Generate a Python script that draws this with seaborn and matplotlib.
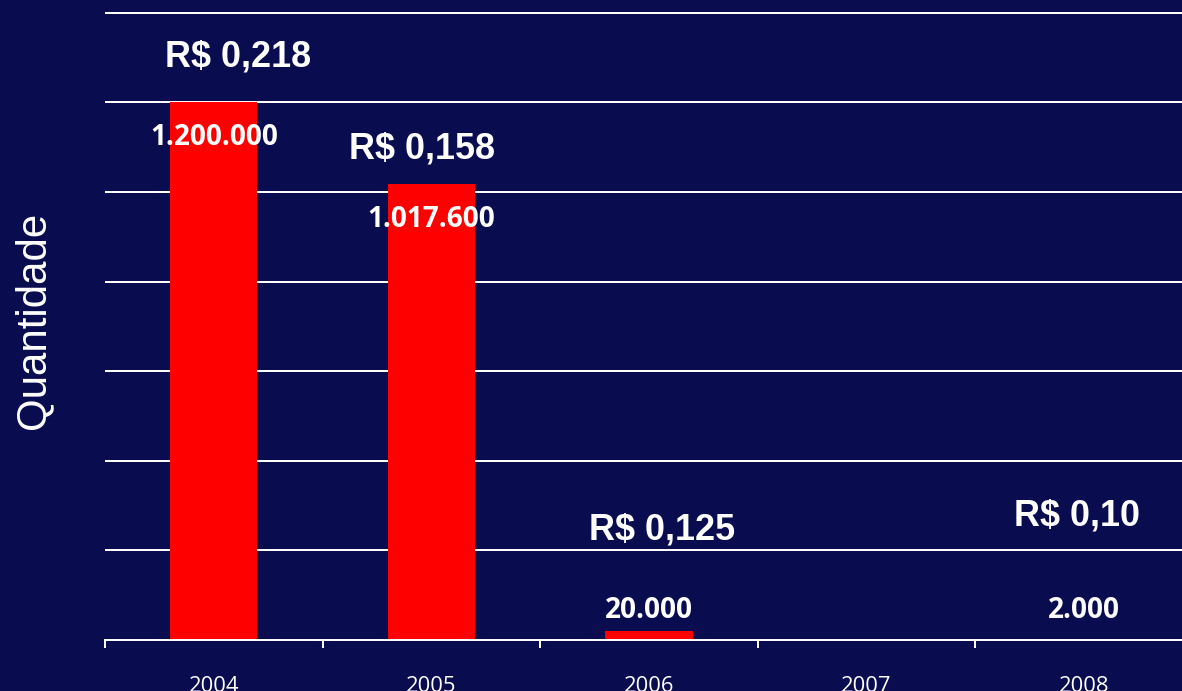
import numpy as np
import pandas as pd
import matplotlib
matplotlib.use("Agg")
import matplotlib.pyplot as plt
import seaborn as sns

# dados
anos = ["2004", "2005", "2006", "2007", "2008"]
quantidade = [1200000, 1017600, 20000, 0, 2000]
rotulos_qtd = ["1.200.000", "1.017.600", "20.000", "", "2.000"]
precos = ["R$ 0,218", "R$ 0,158", "R$ 0,125", "", "R$ 0,10"]

# where each price tag sits relative to its bar top (dx, dy in px)
desloc_preco = [(24, 45), (-9, 35), (13, 101), None, (-7, 123)]

fundo = "#0a0c50"
sns.set_style("dark", {"axes.facecolor": fundo, "figure.facecolor": fundo})
plt.rcParams["font.family"] = ["Open Sans", "DejaVu Sans"]

df = pd.DataFrame({"ano": anos, "qtd": quantidade})

# dpi 72 -> 1pt == 1px
W, H = 1182, 691
fig = plt.figure(figsize=(W / 72, H / 72), dpi=72)
ax = fig.add_axes([105 / W, 51 / H, 1088 / W, 649.6 / H])

sns.barplot(data=df, x="ano", y="qtd", order=anos, color="#ff0000",
            saturation=1, width=0.4, errorbar=None, linewidth=0, ax=ax)

ax.set_xlim(-0.5, 4.5)
ax.set_ylim(0, 1450000)
ax.set_yticks(np.arange(0, 1400001, 200000))
ax.yaxis.grid(True, color="white", lw=2)
ax.xaxis.grid(False)
ax.set_axisbelow(True)
ax.tick_params(axis="y", length=0, labelleft=False)

# category boundary ticks + centred labels
ax.set_xticks(np.arange(-0.5, 5, 1), minor=True)
ax.tick_params(axis="x", which="minor", bottom=True, length=8, width=2,
               color="white", direction="out")
ax.tick_params(axis="x", which="major", bottom=True, length=0, pad=36,
               labelsize=22, labelcolor="white")
ax.set_xlabel("")

for s in ["left", "right", "top"]:
    ax.spines[s].set_visible(False)
ax.spines["bottom"].set_color("white")
ax.spines["bottom"].set_linewidth(2)

ax.set_ylabel("Quantidade", fontsize=42, color="white", family="Liberation Sans")
ax.yaxis.set_label_coords(-0.0662, 0.4926)
ax.yaxis.label.set_verticalalignment("center")

for i, (q, txt) in enumerate(zip(quantidade, rotulos_qtd)):
    if not txt:
        continue
    if q > 500000:
        ax.annotate(txt, (i, q), xytext=(0, -35), textcoords="offset points",
                    ha="center", va="center", color="white", fontsize=28, fontweight="bold")
    else:
        ax.annotate(txt, (i, 0), xytext=(0, 30), textcoords="offset points",
                    ha="center", va="center", color="white", fontsize=28, fontweight="bold")

for i, (p, d) in enumerate(zip(precos, desloc_preco)):
    if not p:
        continue
    ax.annotate(p, (i, quantidade[i]), xytext=d, textcoords="offset points",
                ha="center", va="center", color="white", fontsize=36,
                fontweight="bold", family="Liberation Sans")

fig.savefig("out.png", dpi=72, facecolor=fundo)
